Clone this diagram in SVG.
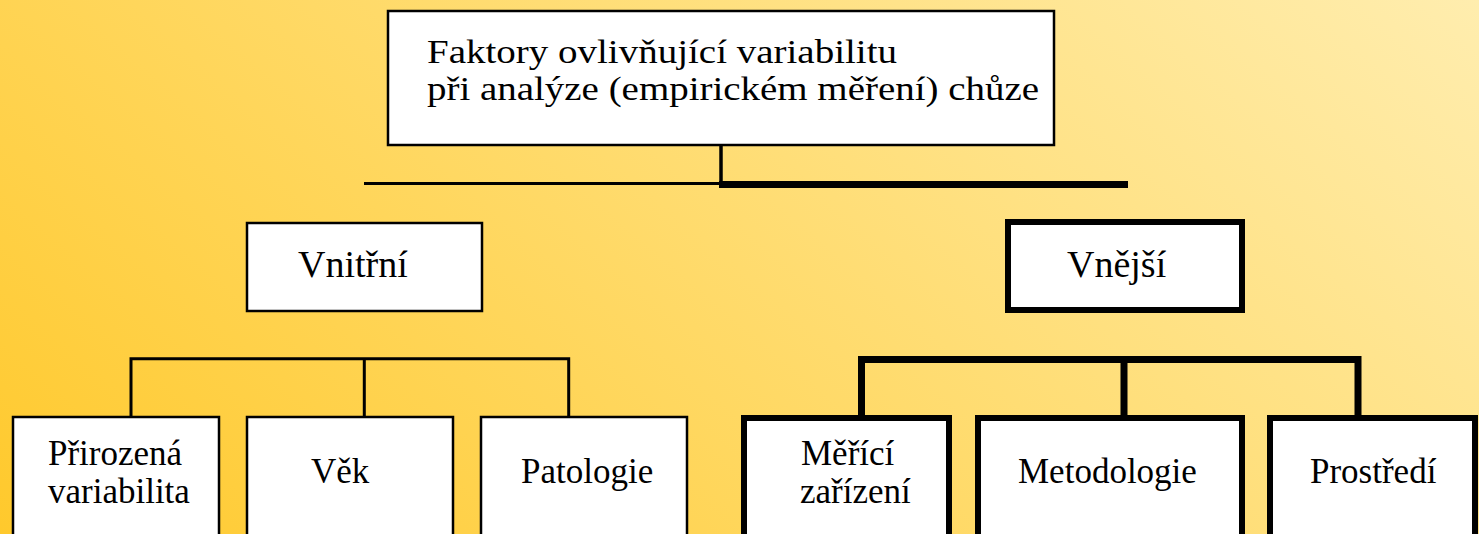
<svg xmlns="http://www.w3.org/2000/svg" width="1479" height="534" viewBox="0 0 1479 534">
  <defs>
    <linearGradient id="bg" gradientUnits="userSpaceOnUse" x1="0" y1="534" x2="877" y2="-507">
      <stop offset="0" stop-color="#FFC92C"/>
      <stop offset="1" stop-color="#FFEDAE"/>
    </linearGradient>
    <style>
      .box { fill: #FFFFFF; stroke: #000000; }
      .thin { stroke-width: 2.5; }
      .thick { stroke-width: 6; }
      .t { font-family: "Liberation Serif", "Times New Roman", serif; fill: #000000; }
      .l1 { font-size: 33px; }
      .l2 { font-size: 38px; }
      .l3 { font-size: 35px; }
      .conn { fill: none; stroke: #000000; }
    </style>
  </defs>
  <rect x="0" y="0" width="1479" height="534" fill="url(#bg)"/>

  <g id="connectors">
    <line class="conn" x1="721" y1="145" x2="721" y2="185" stroke-width="3.5"/>
    <line class="conn" x1="364" y1="183.5" x2="721" y2="183.5" stroke-width="3"/>
    <line class="conn" x1="719" y1="184.5" x2="1128" y2="184.5" stroke-width="7"/>
    <path class="conn" d="M131 417 V358.7 H568.7 V417 M364.3 358.7 V417" stroke-width="3"/>
    <path class="conn" d="M861.5 416 V359.5 H1358 V416 M1124 359.5 V416" stroke-width="7"/>
  </g>

  <g id="node-root">
    <rect class="box thin" x="388" y="11" width="666" height="134"/>
    <text class="t l1" x="427" y="63" textLength="470" lengthAdjust="spacingAndGlyphs">Faktory ovlivňující variabilitu</text>
    <text class="t l1" x="427" y="100" textLength="612" lengthAdjust="spacingAndGlyphs">při analýze (empirickém měření) chůze</text>
  </g>

  <g id="node-vnitrni">
    <rect class="box thin" x="247" y="223" width="235" height="88"/>
    <text class="t l2" x="298" y="277">Vnitřní</text>
  </g>

  <g id="node-vnejsi">
    <rect class="box thick" x="1008" y="222" width="234" height="88"/>
    <text class="t l2" x="1067" y="277">Vnější</text>
  </g>

  <g id="node-prirozena">
    <rect class="box thin" x="13" y="417" width="206" height="130"/>
    <text class="t l3" x="48" y="465">Přirozená</text>
    <text class="t l3" x="48" y="503">variabilita</text>
  </g>

  <g id="node-vek">
    <rect class="box thin" x="247" y="417" width="206" height="130"/>
    <text class="t l3" x="311" y="483">Věk</text>
  </g>

  <g id="node-patologie">
    <rect class="box thin" x="481" y="417" width="206" height="130"/>
    <text class="t l3" x="521" y="483">Patologie</text>
  </g>

  <g id="node-merici">
    <rect class="box thick" x="744" y="418" width="205" height="130"/>
    <text class="t l3" x="801" y="465">Měřící</text>
    <text class="t l3" x="800" y="503">zařízení</text>
  </g>

  <g id="node-metodologie">
    <rect class="box thick" x="978" y="418" width="264" height="130"/>
    <text class="t l3" x="1018" y="483">Metodologie</text>
  </g>

  <g id="node-prostredi">
    <rect class="box thick" x="1270" y="418" width="205" height="130"/>
    <text class="t l3" x="1310" y="483">Prostředí</text>
  </g>
</svg>
